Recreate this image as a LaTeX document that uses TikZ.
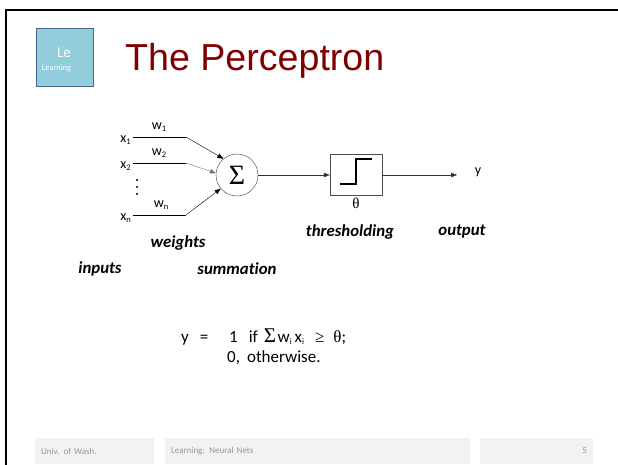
\documentclass[tikz,border=0pt]{standalone}
\usepackage{fontspec}
\setmainfont[Ligatures=NoCommon]{Carlito}
\newfontfamily\arialfont{Liberation Sans}
\newfontfamily\timesfont{Liberation Serif}
\usetikzlibrary{arrows.meta}
\definecolor{titlered}{RGB}{128,0,0}
\definecolor{logoblue}{RGB}{146,205,220}
\definecolor{logoedge}{RGB}{72,102,146}
\definecolor{footfill}{RGB}{242,242,242}
\definecolor{foottext}{RGB}{150,150,150}
\newcommand{\idx}[1]{\raisebox{-2.5pt}{\fontsize{8.5}{8.5}\selectfont #1}}

\tikzset{
  lbl/.style={inner sep=0pt, font=\fontsize{14}{14}\selectfont},
  note/.style={inner sep=0pt, font=\fontsize{16.8}{16.8}\selectfont\bfseries\itshape},
  eq/.style={inner sep=0pt, font=\fontsize{17}{17}\selectfont},
  link/.style={-{Triangle[length=6pt,width=4.5pt]}},
  footbox/.style={fill=footfill, minimum height=26pt, inner xsep=6pt, inner ysep=0pt,
    text=foottext, font=\fontsize{9}{9}\selectfont},
}

\begin{document}
\begin{tikzpicture}[x=1pt,y=-1pt]
  \useasboundingbox (0,0) rectangle (618,465);
  % slide frame
  \draw[line width=2pt] (6,470) -- (6,10) -- (625,10);

  % logo and title
  \node[draw=logoedge, line width=1pt, fill=logoblue, minimum width=57pt, minimum height=58pt,
    inner sep=0pt] (logo) at (64.5,58) {};
  \node[text=white, inner sep=0pt, font=\fontsize{15}{15}\selectfont] (logole) at (64,53) {Le};
  \node[text=white, inner sep=0pt, font=\fontsize{8.3}{8.3}\selectfont] (logosub) at (56.5,68) {Learning};
  \node[anchor=base west, inner sep=0pt, text=titlered, font=\arialfont\fontsize{37.6}{37.6}\selectfont]
    (title) at (125,71) {The Perceptron};

  % inputs and weights
  \coordinate (in1) at (133,137);  \coordinate (bend1) at (186,137);
  \coordinate (in2) at (133,163);  \coordinate (bend2) at (186,163);
  \coordinate (inn) at (133,215);  \coordinate (bendn) at (186,215);
  \node[lbl, anchor=east] (x1) at (131,140) {x\idx{1}};
  \node[lbl, anchor=east] (x2) at (131,166) {x\idx{2}};
  \node[lbl, anchor=east] (xn) at (131,218) {x\idx{n}};
  \node[lbl] (w1) at (159,127) {w\idx{1}};
  \node[lbl] (w2) at (159,153) {w\idx{2}};
  \node[lbl] (wn) at (161,205) {w\idx{n}};
  \foreach \y in {180,187,194} \fill (137,\y) circle (1.2pt);

  % summation and threshold
  \node[draw=black!75, circle, minimum size=42pt, inner sep=0pt,
    font=\timesfont\fontsize{28}{28}\selectfont] (sum) at (237,175) {Σ};
  \node[draw=black!70, minimum width=52pt, minimum height=41pt, inner sep=0pt] (thresh) at (356,175) {};
  \draw[line width=1.8pt] (340,184) -- (356,184) -- (356,159) -- (372,159);
  \node[inner sep=0pt, font=\timesfont\fontsize{15}{15}\selectfont] (theta) at (356,203) {θ};
  \coordinate (tip) at (457,175);
  \node[lbl] (yout) at (478,172) {y};

  \draw (in1) -- (bend1);
  \draw (in2) -- (bend2);
  \draw (inn) -- (bendn);
  \draw[link] (bend1) -- (sum.130);
  \draw[link, black!55] (bend2) -- (sum.175);
  \draw[link] (bendn) -- (sum.220);
  \draw[link, black!80] (sum) -- (thresh);
  \draw[link, black!80] (thresh) -- (tip);

  % captions
  \node[note] (weights) at (178,243) {weights};
  \node[note] (inputs) at (100,269) {inputs};
  \node[note] (summation) at (237,269) {summation};
  \node[note] (thresholding) at (350,232) {thresholding};
  \node[note] (output) at (462,232) {output};

  % rule
  \node[eq, anchor=base] (ylhs) at (185,342) {y};
  \node[eq, anchor=base] (equals) at (204,342) {=};
  \node[eq, anchor=base west] (case1) at (229,342)
    {1\hspace{11pt}if\hspace{6pt}{\timesfont\fontsize{21}{21}\selectfont Σ}\hspace{1.5pt}w\idx{i}\hspace{3pt}x\idx{i}\hspace{11pt}{\timesfont ≥}\hspace{9pt}{\timesfont θ};};
  \node[eq, anchor=base west] (case2) at (227,362) {0,\hspace{7pt}otherwise.};

  % footer
  \node[footbox, minimum width=119pt, text width=107pt, align=left] (univ) at (94.5,451) {Univ. of Wash.};
  \node[footbox, minimum width=305pt, text width=293pt, align=left] (topic) at (317.5,451) {Learning: Neural Nets};
  \node[footbox, minimum width=113pt, text width=101pt, align=right] (page) at (536.5,451) {5};
\end{tikzpicture}
\end{document}
